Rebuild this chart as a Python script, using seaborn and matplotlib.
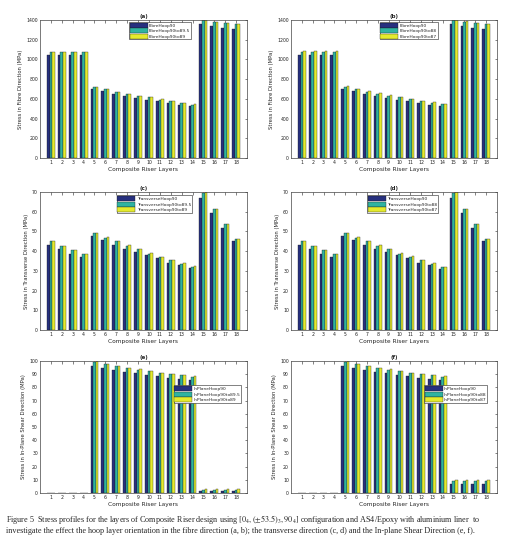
import numpy as np
import pandas as pd
import matplotlib
matplotlib.use("Agg")
import matplotlib.pyplot as plt
import seaborn as sns

layers = [str(i) for i in range(1, 19)]

# (a) Fibre direction, hoop 90 / 89.5 / 89
fa1 = [1046, 1046, 1046, 1046, 698, 675, 648, 634, 607, 590, 574, 557, 540, 523, 1360, 1339, 1322, 1312]
fa2 = [1075, 1075, 1075, 1075, 722, 698, 671, 648, 631, 614, 592, 575, 558, 541, 1398, 1380, 1366, 1357]
fa3 = [1077, 1077, 1077, 1077, 724, 700, 673, 650, 633, 616, 594, 577, 560, 543, 1402, 1384, 1369, 1360]
# (b) Fibre direction, hoop 90 / 88 / 87
fb1 = [1046, 1046, 1046, 1046, 698, 675, 648, 634, 607, 590, 574, 557, 540, 523, 1360, 1339, 1322, 1312]
fb2 = [1078, 1078, 1078, 1078, 725, 700, 674, 652, 633, 617, 595, 578, 561, 544, 1400, 1383, 1368, 1358]
fb3 = [1082, 1082, 1082, 1082, 727, 703, 677, 655, 636, 620, 598, 581, 564, 547, 1405, 1387, 1372, 1362]
# (c) Transverse direction, hoop 90 / 89.5 / 89
tc1 = [43.3, 41.1, 38.8, 36.8, 47.7, 45.7, 43.3, 41.3, 39.6, 37.9, 36.3, 34.2, 32.9, 31.5, 67.0, 59.5, 51.9, 45.0]
tc2 = [45.0, 42.5, 40.5, 38.3, 49.1, 46.9, 45.0, 42.8, 41.0, 38.8, 37.1, 35.4, 33.7, 32.2, 69.6, 61.2, 53.6, 46.0]
tc3 = [45.1, 42.6, 40.6, 38.4, 49.2, 47.0, 45.1, 42.9, 41.1, 38.9, 37.2, 35.5, 33.8, 32.3, 69.8, 61.3, 53.7, 46.1]
# (d) Transverse direction, hoop 90 / 88 / 87
td1 = [43.3, 41.1, 38.8, 36.8, 47.7, 45.7, 43.3, 41.3, 39.6, 37.9, 36.3, 34.2, 32.9, 31.0, 67.0, 59.5, 51.9, 45.0]
td2 = [45.0, 42.6, 40.6, 38.3, 49.1, 46.9, 45.0, 42.8, 41.0, 38.8, 37.1, 35.4, 33.7, 32.0, 69.6, 61.2, 53.6, 46.0]
td3 = [45.2, 42.8, 40.8, 38.5, 49.3, 47.1, 45.2, 43.0, 41.2, 39.0, 37.3, 35.6, 33.9, 32.2, 69.9, 61.4, 53.8, 46.2]
# (e) In-plane shear, hoop 90 / 89.5 / 89
se1 = [0, 0, 0, 0, 96.2, 94.4, 93.0, 91.9, 90.7, 89.6, 88.4, 87.1, 86.4, 85.4, 1.5, 1.5, 1.5, 1.5]
se2 = [0, 0, 0, 0, 99.5, 97.5, 96.0, 94.7, 93.4, 92.4, 90.9, 90.2, 89.1, 88.1, 2.5, 2.5, 2.5, 2.5]
se3 = [0, 0, 0, 0, 99.7, 97.7, 96.2, 94.9, 93.6, 92.6, 91.1, 90.4, 89.3, 88.3, 3.2, 3.2, 3.2, 3.2]
# (f) In-plane shear, hoop 90 / 88 / 87
sf1 = [0, 0, 0, 0, 96.2, 94.4, 93.0, 91.9, 90.7, 89.6, 88.4, 87.1, 86.4, 85.4, 6.8, 6.8, 6.8, 6.8]
sf2 = [0, 0, 0, 0, 99.5, 97.5, 96.0, 94.7, 93.4, 92.4, 90.9, 90.2, 89.1, 88.1, 9.3, 9.3, 9.3, 9.3]
sf3 = [0, 0, 0, 0, 99.8, 97.8, 96.3, 95.0, 93.7, 92.7, 91.2, 90.5, 89.4, 88.4, 9.5, 9.5, 9.5, 9.5]

labels_a = ["FibreHoop90", "FibreHoop90to89.5", "FibreHoop90to89"]
labels_b = ["FibreHoop90", "FibreHoop90to88", "FibreHoop90to87"]
labels_c = ["TransverseHoop90", "TransverseHoop90to89.5", "TransverseHoop90to89"]
labels_d = ["TransverseHoop90", "TransverseHoop90to88", "TransverseHoop90to87"]
labels_e = ["InPlaneHoop90", "InPlaneHoop90to89.5", "InPlaneHoop90to89"]
labels_f = ["InPlaneHoop90", "InPlaneHoop90to88", "InPlaneHoop90to87"]

titles = ["(a)", "(b)", "(c)", "(d)", "(e)", "(f)"]
ylabels = ["Stress in Fibre Direction (MPa)", "Stress in Fibre Direction (MPa)",
           "Stress in Transverse Direction (MPa)", "Stress in Transverse Direction (MPa)",
           "Stress in In-Plane Shear Direction (MPa)", "Stress in In-Plane Shear Direction (MPa)"]
xlabel = "Composite Riser Layers"
yticks_ab = [0, 200, 400, 600, 800, 1000, 1200, 1400]
yticks_cd = [0, 10, 20, 30, 40, 50, 60, 70]
yticks_ef = [0, 10, 20, 30, 40, 50, 60, 70, 80, 90, 100]

sns.set_theme(style="white")
plt.rcParams['font.family'] = ['DejaVu Sans']
plt.rcParams['mathtext.fontset'] = 'stix'

colors = ["#27307f", "#2fb3a1", "#e4ea2e"]

W, H = 507, 547
fig = plt.figure(figsize=(W / 100, H / 100), dpi=100)
fig.patch.set_facecolor("white")

def px_axes(l, t, r, b):
    return fig.add_axes([l / W, 1 - b / H, (r - l) / W, (b - t) / H])

panels = [
    (px_axes(40, 20, 247, 158), [fa1, fa2, fa3], labels_a, yticks_ab, (0.43, 0.985)),
    (px_axes(291, 20, 497, 158), [fb1, fb2, fb3], labels_b, yticks_ab, (0.43, 0.985)),
    (px_axes(40, 192, 247, 330), [tc1, tc2, tc3], labels_c, yticks_cd, (0.37, 0.975)),
    (px_axes(291, 192, 497, 330), [td1, td2, td3], labels_d, yticks_cd, (0.37, 0.975)),
    (px_axes(40, 361, 247, 493), [se1, se2, se3], labels_e, yticks_ef, (0.645, 0.815)),
    (px_axes(291, 361, 497, 493), [sf1, sf2, sf3], labels_f, yticks_ef, (0.645, 0.815)),
]

for i, (ax, series, labs, yt, lpos) in enumerate(panels):
    df = pd.DataFrame({
        "layer": layers * 3,
        "value": series[0] + series[1] + series[2],
        "series": [labs[0]] * 18 + [labs[1]] * 18 + [labs[2]] * 18,
    })
    sns.barplot(data=df, x="layer", y="value", hue="series", order=layers,
                hue_order=labs, palette=colors, width=0.72, ax=ax,
                edgecolor="#1a1a1a", linewidth=0.25, saturation=1)
    ax.set_xlim(-1, 18)
    ax.set_ylim(yt[0], yt[-1])
    ax.set_yticks(yt)
    ax.set_yticklabels([str(v) for v in yt])
    ax.tick_params(axis="both", direction="in", top=True, right=True,
                   length=1.8, width=0.4, labelsize=3.3, pad=1.5, colors="#222222")
    for s in ax.spines.values():
        s.set_linewidth(0.5)
        s.set_color("#444444")
    ax.set_xlabel(xlabel, fontsize=4.2, labelpad=1.5)
    ax.set_ylabel(ylabels[i], fontsize=3.8, labelpad=2)
    ax.set_title(titles[i], fontsize=4, fontweight="bold", pad=1.5)
    leg = ax.legend(loc="upper left", bbox_to_anchor=lpos, fontsize=3.2,
                    frameon=True, fancybox=False, edgecolor="#222222",
                    handlelength=4.0, handleheight=1.3, labelspacing=0.1,
                    borderpad=0.2, handletextpad=0.3, borderaxespad=0)
    leg.get_frame().set_linewidth(0.4)
    leg.get_frame().set_alpha(1)

cap1 = (r"Figure 5  Stress profiles for the layers of Composite Riser design using "
        r"$[0_4,(\pm53.5)_3,90_4]$ configuration and AS4/Epoxy with aluminium liner  to")
cap2 = ("investigate the effect the hoop layer orientation in the fibre direction (a, b); "
        "the transverse direction (c, d) and the In-plane Shear Direction (e, f).")
fig.text(6 / W, 1 - 520 / H, cap1, fontsize=5.85, family="Liberation Serif", va="center", ha="left")
fig.text(6 / W, 1 - 531 / H, cap2, fontsize=5.85, family="Liberation Serif", va="center", ha="left")

fig.savefig("out.png", dpi=100, facecolor="white")
